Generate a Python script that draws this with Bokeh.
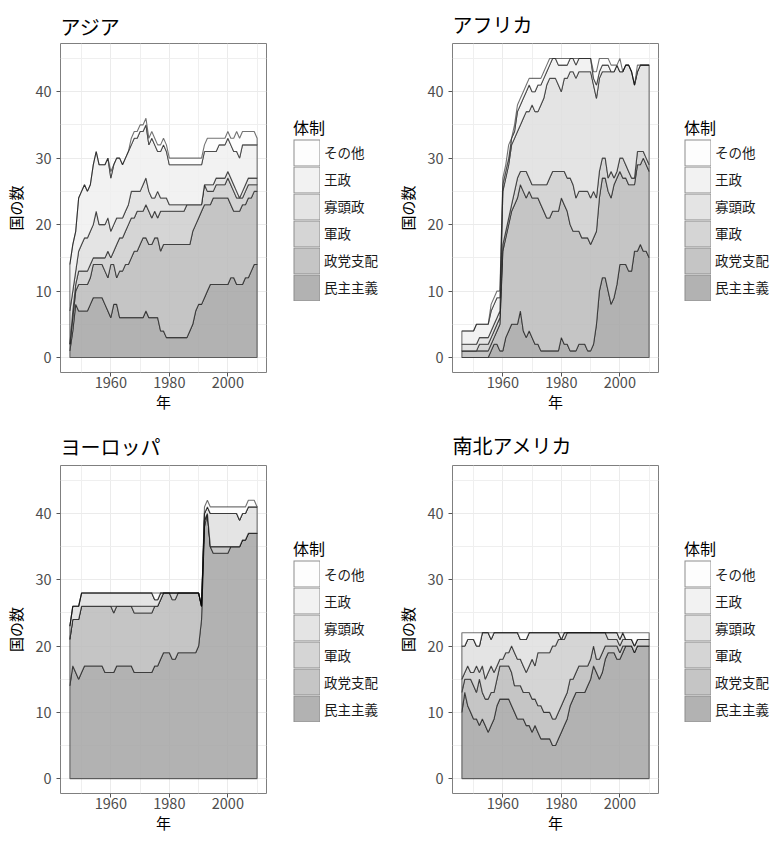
import numpy as np
from bokeh.plotting import figure
from bokeh.layouts import column, row
from bokeh.models import Range1d, FixedTicker, Legend, LegendItem
from bokeh.embed import file_html
from bokeh.resources import INLINE

FONT = "Noto Sans CJK JP"

years = list(range(1946, 2011))
categories = ["民主主義", "政党支配", "軍政", "寡頭政", "王政", "その他"]  # bottom -> top
fill_colors = ["#A4A4A4", "#BBBBBB", "#CECECE", "#DFDFDF", "#F0F0F0", "#FDFDFD"]
key_colors = ["#B2B2B2", "#C5C5C5", "#D5D5D5", "#E4E4E4", "#F2F2F2", "#FDFDFD"]
x_ticks = [1960, 1980, 2000]
x_minor = [1950, 1970, 1990, 2010]
y_ticks = [0, 10, 20, 30, 40]
y_minor = [5, 15, 25, 35, 45]

# Cumulative top of each regime band (number of countries), 1946-2010
asia_democracy = [1, 4, 8, 7,
                  7, 7, 7, 8, 9, 9, 9, 9, 8, 7,
                  6, 8, 8, 6, 6, 6, 6, 6, 6, 6,
                  6, 6, 7, 6, 6, 6, 6, 4, 4, 3,
                  3, 3, 3, 3, 3, 3, 3, 4, 5, 7,
                  8, 8, 9, 10, 11, 11, 11, 11, 11, 11,
                  11, 12, 12, 11, 11, 11, 12, 12, 13, 14,
                  14]
asia_party = [2, 6, 10, 11,
              11, 11, 11, 12, 14, 14, 14, 14, 13, 12,
              14, 14, 12, 13, 13, 14, 14, 15, 16, 16,
              17, 18, 18, 17, 17, 18, 18, 16, 17, 17,
              17, 17, 17, 17, 17, 17, 17, 17, 19, 20,
              21, 22, 23, 23, 23, 24, 24, 24, 24, 24,
              24, 23, 22, 22, 22, 23, 23, 24, 24, 25,
              25]
asia_military = [2, 7, 11, 13,
                 13, 13, 13, 14, 15, 15, 15, 15, 15, 16,
                 15, 16, 17, 18, 18, 19, 20, 21, 21, 22,
                 22, 22, 23, 22, 21, 22, 21, 22, 22, 22,
                 22, 22, 22, 22, 22, 22, 23, 23, 23, 23,
                 23, 23, 26, 25, 25, 25, 26, 26, 26, 26,
                 27, 26, 25, 24, 24, 24, 25, 26, 26, 26,
                 26]
asia_oligarchy = [7, 10, 13, 16,
                  17, 18, 18, 19, 20, 22, 20, 20, 20, 21,
                  19, 20, 21, 21, 21, 22, 23, 25, 25, 25,
                  25, 26, 27, 25, 24, 24, 25, 24, 24, 24,
                  23, 23, 23, 23, 23, 23, 23, 23, 23, 23,
                  23, 23, 26, 26, 26, 26, 27, 27, 27, 27,
                  28, 27, 26, 25, 24, 25, 26, 27, 27, 27,
                  27]
asia_monarchy = [14, 17, 19, 24,
                 25, 26, 25, 26, 29, 31, 29, 29, 29, 30,
                 27, 29, 30, 30, 29, 30, 31, 32, 33, 33,
                 34, 34, 35, 32, 33, 32, 31, 31, 32, 31,
                 29, 29, 29, 29, 29, 29, 29, 29, 29, 29,
                 29, 29, 31, 31, 31, 31, 31, 32, 32, 32,
                 33, 32, 31, 31, 30, 32, 32, 32, 32, 32,
                 32]
asia_other = [14, 17, 19, 24,
              25, 26, 25, 26, 29, 31, 29, 29, 29, 30,
              28, 29, 30, 30, 29, 30, 31, 33, 34, 34,
              35, 35, 36, 33, 34, 33, 32, 32, 33, 32,
              30, 30, 30, 30, 30, 30, 30, 30, 30, 30,
              30, 30, 32, 33, 33, 33, 33, 33, 33, 33,
              34, 33, 33, 34, 33, 34, 34, 34, 34, 34,
              33]

africa_democracy = [0, 0, 0, 0,
                    0, 0, 0, 0, 0, 0, 1, 2, 2, 1,
                    1, 3, 4, 5, 5, 5, 7, 4, 3, 4,
                    3, 2, 2, 1, 1, 1, 1, 1, 1, 1,
                    3, 2, 2, 1, 1, 1, 2, 2, 2, 1,
                    1, 2, 5, 10, 12, 12, 10, 8, 9, 11,
                    14, 14, 14, 13, 13, 16, 16, 17, 16, 16,
                    15]
africa_party = [1, 1, 1, 1,
                1, 1, 1, 1, 1, 1, 2, 3, 4, 5,
                16, 18, 20, 22, 23, 24, 26, 25, 24, 25,
                24, 24, 24, 23, 22, 21, 21, 22, 22, 22,
                24, 23, 22, 20, 19, 19, 19, 18, 18, 18,
                17, 18, 19, 24, 27, 27, 25, 24, 26, 27,
                28, 27, 27, 26, 26, 26, 29, 29, 30, 29,
                28]
africa_military = [1, 1, 1, 1,
                   1, 1, 2, 2, 2, 2, 3, 4, 5, 6,
                   17, 19, 21, 23, 25, 27, 28, 28, 28, 27,
                   26, 26, 26, 26, 26, 26, 27, 28, 28, 28,
                   28, 28, 27, 27, 26, 24, 25, 25, 25, 25,
                   24, 25, 24, 28, 30, 30, 27, 28, 27, 28,
                   30, 30, 29, 28, 27, 27, 31, 31, 31, 30,
                   29]
africa_oligarchy = [2, 2, 2, 2,
                    2, 2, 3, 3, 3, 3, 4, 5, 6, 7,
                    25, 27, 29, 32, 33, 34, 35, 36, 37, 37,
                    38, 37, 37, 38, 39, 41, 42, 42, 42, 41,
                    40, 42, 42, 43, 43, 42, 43, 43, 43, 43,
                    43, 41, 39, 42, 43, 43, 43, 43, 43, 44,
                    43, 43, 44, 44, 43, 41, 43, 44, 44, 44,
                    44]
africa_monarchy = [4, 4, 4, 4,
                   4, 5, 5, 5, 5, 5, 7, 8, 9, 9,
                   26, 28, 30, 33, 34, 37, 38, 39, 40, 41,
                   40, 40, 41, 41, 42, 43, 44, 45, 45, 44,
                   44, 44, 44, 45, 45, 44, 45, 45, 45, 45,
                   45, 42, 41, 43, 44, 44, 44, 43, 43, 44,
                   43, 43, 44, 44, 43, 41, 43, 44, 44, 44,
                   44]
africa_other = [4, 4, 4, 4,
                4, 5, 5, 5, 5, 5, 8, 9, 10, 10,
                27, 29, 32, 33, 35, 38, 39, 40, 41, 42,
                42, 42, 42, 42, 43, 44, 45, 45, 45, 45,
                45, 45, 45, 45, 45, 45, 45, 45, 45, 45,
                45, 43, 43, 45, 45, 45, 45, 44, 44, 44,
                45, 43, 44, 44, 43, 41, 44, 44, 44, 44,
                44]

europe_democracy = [14, 17, 16, 15,
                    16, 17, 17, 17, 17, 17, 17, 17, 16, 16,
                    16, 16, 17, 17, 17, 17, 17, 17, 16, 16,
                    16, 16, 16, 16, 16, 17, 17, 18, 19, 19,
                    19, 18, 18, 19, 19, 19, 19, 19, 19, 19,
                    20, 24, 38, 40, 35, 34, 34, 34, 34, 34,
                    34, 35, 35, 35, 35, 36, 36, 37, 37, 37,
                    37]
europe_party = [21, 24, 24, 24,
                26, 26, 26, 26, 26, 26, 26, 26, 26, 26,
                26, 25, 26, 26, 26, 26, 26, 26, 25, 25,
                25, 25, 25, 25, 25, 26, 26, 27, 28, 28,
                28, 27, 27, 28, 28, 28, 28, 28, 28, 28,
                28, 26, 39, 40, 35, 35, 35, 35, 35, 35,
                35, 35, 35, 35, 35, 36, 36, 37, 37, 37,
                37]
europe_military = [21, 24, 24, 24,
                   26, 26, 26, 26, 26, 26, 26, 26, 26, 26,
                   26, 26, 26, 26, 26, 26, 26, 26, 26, 26,
                   26, 26, 26, 26, 26, 26, 26, 27, 28, 28,
                   28, 28, 28, 28, 28, 28, 28, 28, 28, 28,
                   28, 26, 39, 40, 35, 35, 35, 35, 35, 35,
                   35, 35, 35, 35, 35, 36, 36, 37, 37, 37,
                   37]
europe_oligarchy = [23, 26, 26, 26,
                    28, 28, 28, 28, 28, 28, 28, 28, 28, 28,
                    28, 28, 28, 28, 28, 28, 28, 28, 28, 28,
                    28, 28, 28, 28, 28, 27, 27, 28, 28, 28,
                    28, 28, 28, 28, 28, 28, 28, 28, 28, 28,
                    28, 26, 40, 41, 40, 40, 40, 40, 40, 40,
                    40, 40, 40, 40, 39, 40, 40, 41, 41, 41,
                    41]
europe_monarchy = [23, 26, 26, 26,
                   28, 28, 28, 28, 28, 28, 28, 28, 28, 28,
                   28, 28, 28, 28, 28, 28, 28, 28, 28, 28,
                   28, 28, 28, 28, 28, 27, 27, 28, 28, 28,
                   28, 28, 28, 28, 28, 28, 28, 28, 28, 28,
                   28, 26, 40, 41, 40, 40, 40, 40, 40, 40,
                   40, 40, 40, 40, 39, 40, 40, 41, 41, 41,
                   41]
europe_other = [23, 26, 26, 26,
                28, 28, 28, 28, 28, 28, 28, 28, 28, 28,
                28, 28, 28, 28, 28, 28, 28, 28, 28, 28,
                28, 28, 28, 28, 28, 28, 28, 28, 28, 28,
                28, 28, 28, 28, 28, 28, 28, 28, 28, 28,
                28, 26, 41, 42, 41, 41, 41, 41, 41, 41,
                41, 41, 41, 41, 41, 41, 41, 42, 42, 42,
                41]

americas_democracy = [10, 13, 11, 10,
                      9, 9, 8, 9, 8, 7, 8, 9, 11, 12,
                      12, 12, 12, 11, 10, 9, 9, 9, 8, 8,
                      7, 8, 7, 6, 6, 6, 6, 5, 5, 6,
                      7, 8, 9, 11, 12, 13, 13, 13, 13, 14,
                      15, 17, 16, 15, 16, 18, 19, 19, 19, 18,
                      18, 19, 20, 20, 20, 19, 20, 20, 20, 20,
                      20]
americas_party = [13, 15, 15, 15,
                  14, 13, 15, 13, 12, 12, 13, 13, 15, 17,
                  17, 17, 17, 16, 14, 14, 14, 13, 13, 13,
                  12, 12, 11, 11, 10, 10, 10, 9, 9, 10,
                  11, 12, 13, 15, 15, 16, 17, 17, 17, 17,
                  18, 20, 18, 18, 19, 20, 20, 20, 20, 20,
                  19, 20, 20, 20, 20, 19, 20, 20, 20, 20,
                  20]
americas_military = [15, 16, 17, 16,
                     16, 17, 16, 17, 15, 16, 17, 16, 17, 18,
                     18, 19, 19, 20, 19, 18, 18, 17, 16, 17,
                     18, 17, 19, 19, 19, 19, 19, 20, 20, 21,
                     21, 21, 22, 22, 22, 22, 22, 22, 22, 22,
                     22, 22, 22, 22, 22, 22, 21, 21, 21, 21,
                     20, 21, 21, 21, 21, 20, 21, 21, 21, 21,
                     21]
americas_oligarchy = [20, 20, 21, 21,
                      21, 20, 20, 22, 22, 22, 21, 22, 22, 22,
                      22, 22, 22, 22, 22, 22, 21, 21, 21, 22,
                      22, 22, 22, 22, 22, 22, 22, 22, 22, 22,
                      21, 22, 22, 22, 22, 22, 22, 22, 22, 22,
                      22, 22, 22, 22, 22, 22, 22, 22, 22, 22,
                      21, 22, 21, 21, 21, 20, 21, 21, 21, 21,
                      21]
americas_monarchy = [20, 20, 21, 21,
                     21, 20, 20, 22, 22, 22, 21, 22, 22, 22,
                     22, 22, 22, 22, 22, 22, 21, 21, 21, 22,
                     22, 22, 22, 22, 22, 22, 22, 22, 22, 22,
                     21, 22, 22, 22, 22, 22, 22, 22, 22, 22,
                     22, 22, 22, 22, 22, 22, 22, 22, 22, 22,
                     21, 22, 21, 21, 21, 20, 21, 21, 21, 21,
                     21]
americas_other = [22, 22, 22, 22,
                  22, 22, 22, 22, 22, 22, 22, 22, 22, 22,
                  22, 22, 22, 22, 22, 22, 22, 22, 22, 22,
                  22, 22, 22, 22, 22, 22, 22, 22, 22, 22,
                  22, 22, 22, 22, 22, 22, 22, 22, 22, 22,
                  22, 22, 22, 22, 22, 22, 22, 22, 22, 22,
                  22, 22, 22, 22, 22, 22, 22, 22, 22, 22,
                  22]


def make_plot(name, levels, width, height, b_left, b_top, b_bottom, title_standoff):
    p = figure(width=width, height=height, output_backend="svg", toolbar_location=None,
               x_range=Range1d(1942.8, 2013.2), y_range=Range1d(-2.25, 47.25),
               min_border_left=b_left, min_border_top=b_top,
               min_border_right=1, min_border_bottom=b_bottom,
               x_axis_label="年", y_axis_label="国の数", title=name)
    p.title.text_font = FONT
    p.title.text_font_size = "20px"
    p.title.text_font_style = "normal"
    p.title.text_color = "#000000"
    p.title.align = "left"
    p.title.standoff = title_standoff

    p.background_fill_color = "white"
    p.border_fill_color = "white"
    p.outline_line_color = "#7F7F7F"
    p.outline_line_width = 1

    xt = FixedTicker(ticks=x_ticks, minor_ticks=x_minor)
    yt = FixedTicker(ticks=y_ticks, minor_ticks=y_minor)
    p.xaxis.ticker = xt
    p.yaxis.ticker = yt
    p.xgrid.ticker = xt
    p.ygrid.ticker = yt
    for g in (p.xgrid, p.ygrid):
        g.grid_line_color = "#EBEBEB"
        g.grid_line_width = 1
        g.minor_grid_line_color = "#EFEFEF"
        g.minor_grid_line_width = 1

    for ax in (p.xaxis[0], p.yaxis[0]):
        ax.axis_line_color = None
        ax.major_tick_line_color = "#555555"
        ax.major_tick_out = 4
        ax.major_tick_in = 0
        ax.minor_tick_line_color = None
        ax.major_label_text_font = FONT
        ax.major_label_text_font_size = "14.5px"
        ax.major_label_text_color = "#4D4D4D"
        ax.axis_label_text_font = FONT
        ax.axis_label_text_font_size = "15px"
        ax.axis_label_text_font_style = "normal"
        ax.axis_label_text_color = "#000000"
    p.xaxis.major_label_standoff = 0
    p.xaxis.axis_label_standoff = 0
    p.yaxis.major_label_standoff = 5
    p.yaxis.axis_label_standoff = 6

    xs = years + years[::-1]
    lower = [0] * len(years)
    for upper, color in zip(levels, fill_colors):
        p.patch(xs, list(upper) + list(lower)[::-1], fill_color=color, fill_alpha=0.85,
                line_color="black", line_alpha=0.55, line_width=1.1)
        lower = upper
    return p


def make_legend(width, height, b_top, b_bottom, margin):
    q = figure(width=width, height=height, output_backend="svg", toolbar_location=None,
               x_range=Range1d(0, 1), y_range=Range1d(0, 1),
               x_axis_location=None, y_axis_location=None,
               min_border_left=0, min_border_right=0,
               min_border_top=b_top, min_border_bottom=b_bottom)
    q.grid.visible = False
    q.outline_line_color = None
    q.background_fill_color = "white"
    q.border_fill_color = "white"
    blank = np.array([np.nan])  # legend proxies: no visible marks
    items = []
    for cat, color in reversed(list(zip(categories, key_colors))):
        edge = q.quad(left=blank, right=blank, top=blank, bottom=blank, fill_color=None,
                      line_color="#8C8C8C", line_width=5.4, line_join="miter")
        face = q.quad(left=blank, right=blank, top=blank, bottom=blank, fill_color=color,
                      line_color=color, line_width=3.4, line_join="miter")
        items.append(LegendItem(label=cat, renderers=[edge, face]))
    legend = Legend(items=items, title="体制", location="center_left", orientation="vertical")
    legend.title_text_font = FONT
    legend.title_text_font_size = "16px"
    legend.title_text_font_style = "normal"
    legend.title_text_color = "#000000"
    legend.title_standoff = 0
    legend.label_text_font = FONT
    legend.label_text_font_size = "13.5px"
    legend.label_text_color = "#1A1A1A"
    legend.glyph_width = 27
    legend.glyph_height = 27
    legend.spacing = 0
    legend.padding = 0
    legend.margin = margin
    legend.label_standoff = 4
    legend.border_line_color = None
    legend.background_fill_alpha = 0
    q.add_layout(legend)
    return q


p_asia = make_plot("アジア",
                   [asia_democracy, asia_party, asia_military, asia_oligarchy, asia_monarchy, asia_other],
                   267, 420, 60, 39, 42, 5)
l_asia = make_legend(118, 420, 39, 48, 26)
p_africa = make_plot("アフリカ",
                     [africa_democracy, africa_party, africa_military, africa_oligarchy, africa_monarchy, africa_other],
                     274, 420, 67, 43, 42, 9)
l_africa = make_legend(111, 420, 43, 48, 25)
p_europe = make_plot("ヨーロッパ",
                     [europe_democracy, europe_party, europe_military, europe_oligarchy, europe_monarchy, europe_other],
                     267, 421, 60, 44, 42, 10)
l_europe = make_legend(118, 421, 44, 48, 26)
p_americas = make_plot("南北アメリカ",
                       [americas_democracy, americas_party, americas_military, americas_oligarchy, americas_monarchy, americas_other],
                       274, 421, 67, 45, 42, 11)
l_americas = make_legend(111, 421, 45, 48, 25)

layout = column(row(p_asia, l_asia, p_africa, l_africa),
                row(p_europe, l_europe, p_americas, l_americas))

with open("out.html", "w") as f:
    f.write(file_html(layout, INLINE))
